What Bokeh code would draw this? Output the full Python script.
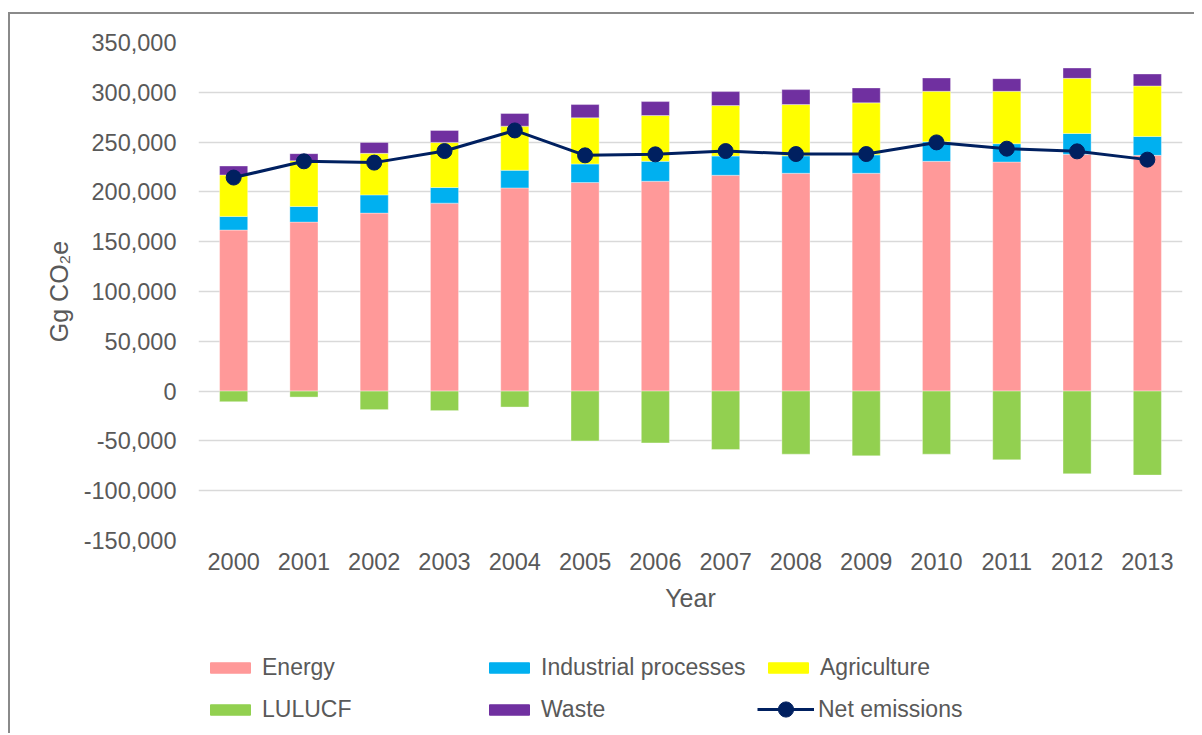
from bokeh.plotting import figure
from bokeh.layouts import column
from bokeh.models import (ColumnDataSource, FactorRange, Range1d, FixedTicker, NumeralTickFormatter,
                          Legend, LegendItem, CDSView, IndexFilter)
from bokeh.embed import file_html
from bokeh.resources import INLINE

years = ["2000", "2001", "2002", "2003", "2004", "2005", "2006",
         "2007", "2008", "2009", "2010", "2011", "2012", "2013"]
energy = [161700, 169700, 178700, 188700, 204000, 209400, 210700,
          216700, 218700, 218700, 230700, 230000, 237700, 236700]
industrial = [13700, 15700, 18300, 15700, 17700, 18600, 20000,
              19300, 17500, 18500, 19700, 18400, 21000, 19000]
agriculture = [41600, 46000, 41700, 45300, 44300, 46400, 46000,
               50700, 51500, 52200, 50600, 52600, 55300, 50700]
waste = [9000, 7000, 11000, 12000, 12700, 13300, 14000,
         14000, 15000, 15000, 13400, 12700, 10400, 12000]
lulucf = [-10600, -6000, -18600, -19600, -16000, -50000, -52000,
          -58600, -63300, -65000, -63300, -69000, -83000, -84300]
net = [214400, 230700, 229400, 241000, 261700, 236700, 237700,
       241000, 238000, 238000, 249700, 243400, 240700, 232400]
y_ticks = [-150000, -100000, -50000, 0, 50000, 100000, 150000,
           200000, 250000, 300000, 350000]

FONT = "Liberation Sans"
TXT = "#595959"
C_EN, C_IND, C_AG, C_LU, C_WA, C_NET = ("#FF9999", "#00B0F0", "#FFFF00",
                                        "#92D050", "#7030A0", "#002060")

src = ColumnDataSource(dict(year=years, energy=energy, industrial=industrial,
                            agriculture=agriculture, waste=waste,
                            lulucf=lulucf, net=net))

# ---------------- main chart ----------------
p = figure(x_range=FactorRange(*years), y_range=Range1d(-150000, 350000),
           width=1184, height=611, output_backend="svg", toolbar_location=None,
           min_border_left=188, min_border_right=12, min_border_top=28,
           min_border_bottom=85)
p.outline_line_color = None
p.background_fill_color = "white"
p.border_fill_color = "white"

p.vbar_stack(["energy", "industrial", "agriculture", "waste"], x="year",
             width=0.4, source=src, color=[C_EN, C_IND, C_AG, C_WA],
             line_color="white", line_width=0.6, line_alpha=0.6)
p.vbar(x="year", top=0, bottom="lulucf", width=0.4, source=src,
       fill_color=C_LU, line_color="white", line_width=0.6, line_alpha=0.6)
p.line(x="year", y="net", source=src, line_color=C_NET, line_width=3)
p.scatter(x="year", y="net", source=src, size=15, fill_color=C_NET, line_color=C_NET)

p.yaxis.ticker = FixedTicker(ticks=y_ticks)
p.yaxis.formatter = NumeralTickFormatter(format="0,0")
for ax in (p.xaxis[0], p.yaxis[0]):
    ax.axis_line_color = None
    ax.major_tick_line_color = None
    ax.minor_tick_line_color = None
    ax.major_tick_out = 0
    ax.major_tick_in = 0
    ax.minor_tick_out = 0
    ax.major_label_text_font = FONT
    ax.major_label_text_font_size = "23.5px"
    ax.major_label_text_color = TXT
    ax.axis_label_text_font = FONT
    ax.axis_label_text_font_size = "25px"
    ax.axis_label_text_font_style = "normal"
    ax.axis_label_text_color = TXT
p.yaxis.axis_label = "Gg CO₂e"
p.yaxis.major_label_standoff = 22
p.yaxis.axis_label_standoff = 8
p.xaxis.axis_label = "Year"
p.xaxis.major_label_standoff = 12
p.xaxis.axis_label_standoff = 11

p.xgrid.grid_line_color = None
p.ygrid.grid_line_color = "#D9D9D9"
p.ygrid.grid_line_width = 1.5
p.ygrid.ticker = FixedTicker(ticks=y_ticks)

# ---------------- legend strip ----------------
# proxy renderers (one row of the same data, scrolled far out of view) give the legend its swatches
lg = figure(x_range=FactorRange(*years), y_range=Range1d(5e6, 5e6 + 1), width=1184, height=108,
            output_backend="svg", toolbar_location=None, min_border=0)
lg.axis.visible = False
lg.grid.grid_line_color = None
lg.outline_line_color = None
lg.background_fill_color = "white"
lg.border_fill_color = "white"

one = CDSView(filter=IndexFilter([0]))
sw = {}
for name, fld, col in [("en", "energy", C_EN), ("ind", "industrial", C_IND),
                       ("ag", "agriculture", C_AG), ("wa", "waste", C_WA)]:
    sw[name] = lg.vbar(x="year", top=fld, width=0.4, source=src, view=one,
                       fill_color=col, line_color=col)
sw["lu"] = lg.vbar(x="year", top=0, bottom="lulucf", width=0.4, source=src, view=one,
                   fill_color=C_LU, line_color=C_LU)
net_l = lg.line(x="year", y="net", source=src, line_color=C_NET, line_width=3)
net_s = lg.scatter(x="year", y="net", source=src, view=one, fill_color=C_NET, line_color=C_NET)

common = dict(border_line_color=None, background_fill_alpha=0, padding=0, margin=0,
              label_standoff=7, label_text_font=FONT, label_text_font_size="23px",
              label_text_color=TXT)

leg1 = Legend(items=[
    LegendItem(label="Energy", renderers=[sw["en"]]),
    LegendItem(label="LULUCF", renderers=[sw["lu"]]),
    LegendItem(label="Industrial processes", renderers=[sw["ind"]]),
    LegendItem(label="Waste", renderers=[sw["wa"]]),
    LegendItem(label="Agriculture", renderers=[sw["ag"]]),
], ncols=3, location=(7, 9), spacing=12, glyph_width=50, glyph_height=13,
    label_width=210, label_height=30, **common)
lg.add_layout(leg1, "center")

leg2 = Legend(items=[LegendItem(label="Net emissions", renderers=[net_l, net_s])],
              location=(559, 5), glyph_width=57, glyph_height=38, label_height=38,
              **{**common, "label_standoff": 4})
lg.add_layout(leg2, "center")

page = column(p, lg, spacing=0)
page.styles = {"border-top": "2px solid #8A8A8A", "border-left": "2px solid #8A8A8A",
               "margin-left": "8px", "margin-top": "12px"}

open("out.html", "w").write(file_html(page, INLINE))
